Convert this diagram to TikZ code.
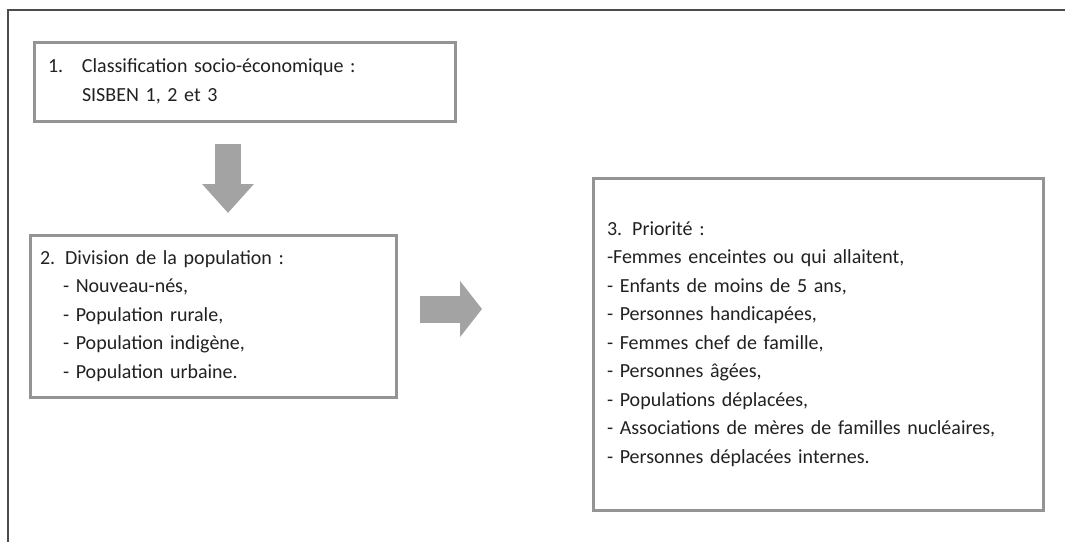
\documentclass[tikz,border=0pt]{standalone}
\usepackage{fontspec}
\setmainfont{Carlito}
\usepackage{tikz}
\usetikzlibrary{arrows.meta}
\usetikzlibrary{positioning}
\definecolor{cadre}{rgb}{0.3,0.3,0.3}
\definecolor{bord}{rgb}{0.58,0.58,0.58}
\definecolor{fleche}{rgb}{0.64,0.64,0.64}
\definecolor{texte}{rgb}{0.13,0.13,0.13}

\begin{document}
\begin{tikzpicture}[x=1pt,y=-1pt,
  font=\fontsize{20}{28.5}\selectfont, text=texte,
  boite/.style={draw=bord,line width=3pt,rectangle,align=left,
    inner xsep=14pt,inner ysep=0pt,outer sep=0pt,anchor=north west},
  grosse/.style args={#1/#2/#3}{draw=fleche,line width=#1,
    -{Triangle[width=#2,length=#3]}}]
  \useasboundingbox (0,0) rectangle (1065,542);
  % cadre exterieur
  \draw[cadre,line width=2.2pt] (1065,10) -- (8,10) -- (8,542);

  \node[boite,text width=393pt,minimum height=79pt] (classif) at (34,42)
    {\makebox[34pt][l]{1.}Classification socio-économique :\\
     \hspace*{34pt}SISBEN 1, 2 et 3};
  \node[boite,inner xsep=10pt,text width=346pt,minimum height=162pt] (division) at (30,235)
    {2. Division de la population :\\
     \hspace*{23pt}- Nouveau-nés,\\
     \hspace*{23pt}- Population rurale,\\
     \hspace*{23pt}- Population indigène,\\
     \hspace*{23pt}- Population urbaine.};
  \node[boite,text width=422pt,minimum height=332pt] (priorite) at (593,178)
    {3. Priorité :\\
     -Femmes enceintes ou qui allaitent,\\
     - Enfants de moins de 5 ans,\\
     - Personnes handicapées,\\
     - Femmes chef de famille,\\
     - Personnes âgées,\\
     - Populations déplacées,\\
     - Associations de mères de familles nucléaires,\\
     - Personnes déplacées internes.};

  % fleches
  \coordinate (bas) at (228,0);
  \coordinate (droite) at (0,309);
  \draw[grosse=26pt/50pt/29pt,shorten <=23pt,shorten >=22pt]
    (classif.south -| bas) -- (division.north -| bas);
  \draw[grosse=27pt/55pt/22pt,shorten <=24pt,shorten >=111pt]
    (division.east |- droite) -- (priorite.west |- droite);
\end{tikzpicture}
\end{document}
